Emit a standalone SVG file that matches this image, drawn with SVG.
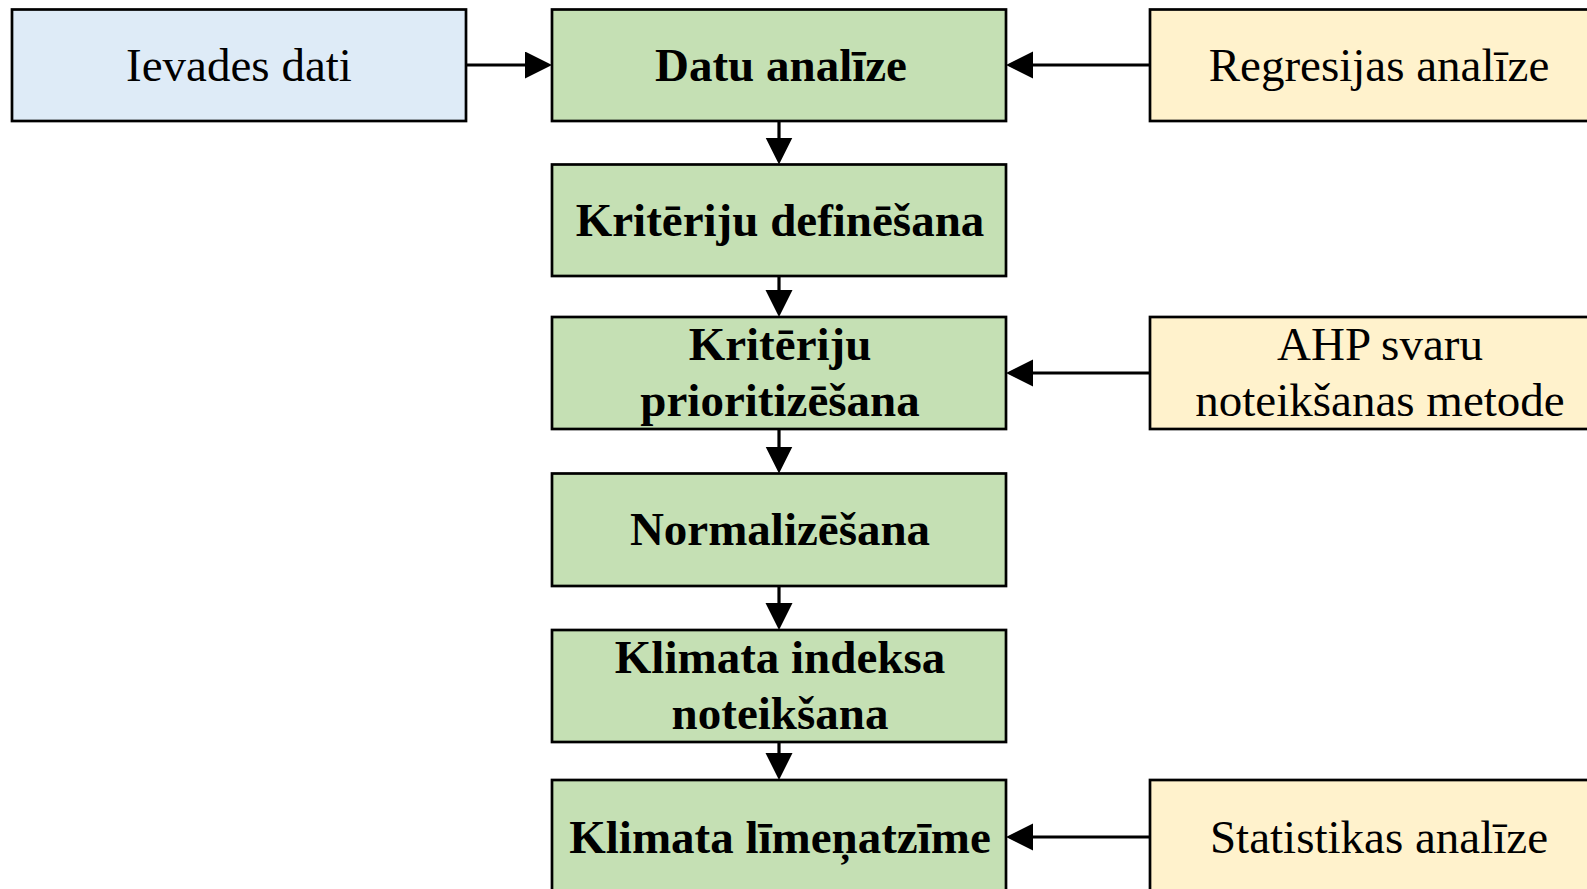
<svg xmlns="http://www.w3.org/2000/svg" width="1587" height="889" viewBox="0 0 1587 889">
<style>
.box{stroke:#000;stroke-width:2.7}
.blue{fill:#DEEBF7}
.green{fill:#C5E0B4}
.yellow{fill:#FFF2CC}
text{font-family:"Liberation Serif","Times New Roman",serif;font-size:47px;text-anchor:middle;fill:#000}
.b{font-weight:bold}
.conn{stroke:#000;stroke-width:3.2;fill:none;marker-end:url(#ah)}
</style>
<defs>
<marker id="ah" markerUnits="userSpaceOnUse" markerWidth="28" markerHeight="28" refX="7" refY="13.5" orient="auto">
<path d="M0,0 L27,13.5 L0,27 z" fill="#000"/>
</marker>
</defs>
<rect width="1587" height="889" fill="#fff"/>
<g id="n-ievades"><rect class="box blue" x="12" y="9.5" width="454" height="111.5"/><text x="239" y="81">Ievades dati</text></g>
<g id="n-datu"><rect class="box green" x="552" y="9.5" width="454" height="111.5"/><text class="b" x="781" y="81">Datu analīze</text></g>
<g id="n-regresijas"><rect class="box yellow" x="1150" y="9.5" width="460" height="111.5"/><text x="1379" y="81">Regresijas analīze</text></g>
<g id="n-kriteriju-def"><rect class="box green" x="552" y="164.5" width="454" height="111.5"/><text class="b" x="780" y="236">Kritēriju definēšana</text></g>
<g id="n-kriteriju-prio"><rect class="box green" x="552" y="317" width="454" height="112"/><text class="b" x="780" y="360">Kritēriju</text><text class="b" x="780" y="416">prioritizēšana</text></g>
<g id="n-ahp"><rect class="box yellow" x="1150" y="317" width="460" height="112"/><text x="1380" y="360">AHP svaru</text><text x="1380" y="416">noteikšanas metode</text></g>
<g id="n-normalizesana"><rect class="box green" x="552" y="473.5" width="454" height="112.5"/><text class="b" x="780" y="545">Normalizēšana</text></g>
<g id="n-klimata-indeksa"><rect class="box green" x="552" y="630" width="454" height="112"/><text class="b" x="780" y="673">Klimata indeksa</text><text class="b" x="780" y="729">noteikšana</text></g>
<g id="n-klimata-limen"><rect class="box green" x="552" y="780" width="454" height="114"/><text class="b" x="780" y="853">Klimata līmeņatzīme</text></g>
<g id="n-statistikas"><rect class="box yellow" x="1150" y="780" width="460" height="114"/><text x="1379" y="853">Statistikas analīze</text></g>
<g id="connectors">
<line class="conn" x1="466" y1="65" x2="532" y2="65"/>
<line class="conn" x1="1150" y1="65" x2="1026" y2="65"/>
<line class="conn" x1="1150" y1="373" x2="1026" y2="373"/>
<line class="conn" x1="1150" y1="837" x2="1026" y2="837"/>
<line class="conn" x1="779" y1="121" x2="779" y2="144.5"/>
<line class="conn" x1="779" y1="276" x2="779" y2="297"/>
<line class="conn" x1="779" y1="429" x2="779" y2="453.5"/>
<line class="conn" x1="779" y1="586" x2="779" y2="610"/>
<line class="conn" x1="779" y1="742" x2="779" y2="760"/>
</g>
</svg>
